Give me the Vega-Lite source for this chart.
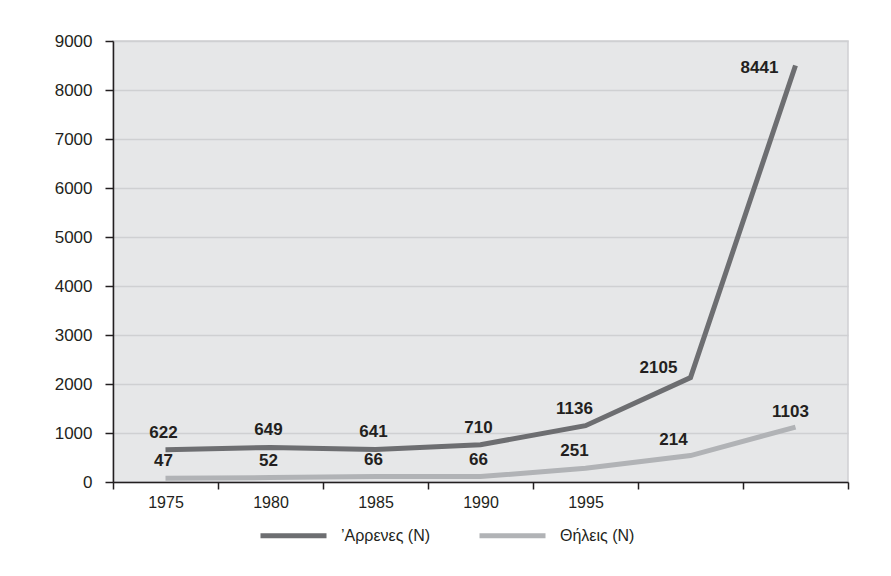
{
  "$schema": "https://vega.github.io/schema/vega-lite/v6.json",
  "width": 735,
  "height": 441,
  "autosize": {"type": "none"},
  "padding": {"left": 113, "top": 41, "right": 43, "bottom": 94},
  "background": "#ffffff",
  "config": {
    "font": "Liberation Sans, Arial, sans-serif",
    "view": {"fill": "#e6e7e8", "stroke": "#cfd0d2", "strokeWidth": 1.5},
    "axis": {"labelFont": "Liberation Sans, Arial, sans-serif", "labelColor": "#231f20", "domainColor": "#231f20", "tickColor": "#231f20", "domainWidth": 1.5, "tickWidth": 1.5},
    "legend": {"labelFont": "Liberation Sans, Arial, sans-serif"},
    "text": {"font": "Liberation Sans, Arial, sans-serif"}
  },
  "data": {
    "values": [
      {"year": 1975, "series": "’Αρρενες (N)", "value": 660, "label": "622"},
      {"year": 1980, "series": "’Αρρενες (N)", "value": 705, "label": "649"},
      {"year": 1985, "series": "’Αρρενες (N)", "value": 665, "label": "641"},
      {"year": 1990, "series": "’Αρρενες (N)", "value": 760, "label": "710"},
      {"year": 1995, "series": "’Αρρενες (N)", "value": 1150, "label": "1136"},
      {"year": 2000, "series": "’Αρρενες (N)", "value": 2130, "label": "2105"},
      {"year": 2005, "series": "’Αρρενες (N)", "value": 8500, "label": "8441"},
      {"year": 1975, "series": "Θήλεις (N)", "value": 75, "label": "47"},
      {"year": 1980, "series": "Θήλεις (N)", "value": 90, "label": "52"},
      {"year": 1985, "series": "Θήλεις (N)", "value": 110, "label": "66"},
      {"year": 1990, "series": "Θήλεις (N)", "value": 110, "label": "66"},
      {"year": 1995, "series": "Θήλεις (N)", "value": 280, "label": "251"},
      {"year": 2000, "series": "Θήλεις (N)", "value": 540, "label": "214"},
      {"year": 2005, "series": "Θήλεις (N)", "value": 1120, "label": "1103"}
    ]
  },
  "encoding": {
    "x": {
      "field": "year", "type": "ordinal",
      "scale": {"type": "band", "paddingInner": 0, "paddingOuter": 0},
      "axis": {"title": null, "labelAngle": 0, "tickBand": "extent", "grid": false, "tickSize": 7, "labelPadding": 5, "labelFontSize": 16, "labelExpr": "datum.value >= 2000 ? '' : datum.label"}
    },
    "y": {
      "field": "value", "type": "quantitative",
      "scale": {"domain": [0, 9000], "nice": false},
      "axis": {"title": null, "format": "d", "values": [0, 1000, 2000, 3000, 4000, 5000, 6000, 7000, 8000, 9000], "grid": true, "gridColor": "#cfd0d2", "gridWidth": 1.5, "tickSize": 8, "labelPadding": 13, "labelFontSize": 17}
    }
  },
  "layer": [
    {
      "mark": {"type": "line", "strokeWidth": 5},
      "encoding": {
        "color": {
          "field": "series", "type": "nominal",
          "scale": {"domain": ["’Αρρενες (N)", "Θήλεις (N)"], "range": ["#6d6e71", "#b1b3b6"]},
          "legend": {"title": null, "orient": "none", "legendX": 145, "legendY": 459, "direction": "horizontal", "symbolType": "stroke", "symbolSize": 4356, "symbolStrokeWidth": 5, "labelFontSize": 16, "labelColor": "#231f20", "labelOffset": 12, "columnPadding": 38}
        }
      }
    },
    {
      "transform": [{"filter": "datum.year <= 1990"}],
      "mark": {"type": "text", "fontWeight": "bold", "fontSize": 17, "color": "#231f20", "dx": -2, "dy": -17},
      "encoding": {"text": {"field": "label"}}
    },
    {
      "transform": [{"filter": "datum.year == 1995"}],
      "mark": {"type": "text", "fontWeight": "bold", "fontSize": 17, "color": "#231f20", "dx": -11, "dy": -17},
      "encoding": {"text": {"field": "label"}}
    },
    {
      "transform": [{"filter": "datum.year == 2000 && datum.series == 'Θήλεις (N)'"}],
      "mark": {"type": "text", "fontWeight": "bold", "fontSize": 17, "color": "#231f20", "dx": -17, "dy": -16},
      "encoding": {"text": {"field": "label"}}
    },
    {
      "transform": [{"filter": "datum.year == 2000 && datum.series == '’Αρρενες (N)'"}],
      "mark": {"type": "text", "fontWeight": "bold", "fontSize": 17, "color": "#231f20", "dx": -32, "dy": -10},
      "encoding": {"text": {"field": "label"}}
    },
    {
      "transform": [{"filter": "datum.year == 2005 && datum.series == 'Θήλεις (N)'"}],
      "mark": {"type": "text", "fontWeight": "bold", "fontSize": 17, "color": "#231f20", "dx": -5, "dy": -15},
      "encoding": {"text": {"field": "label"}}
    },
    {
      "transform": [{"filter": "datum.year == 2005 && datum.series == '’Αρρενες (N)'"}],
      "mark": {"type": "text", "fontWeight": "bold", "fontSize": 17, "color": "#231f20", "dx": -36, "dy": 2},
      "encoding": {"text": {"field": "label"}}
    }
  ]
}
